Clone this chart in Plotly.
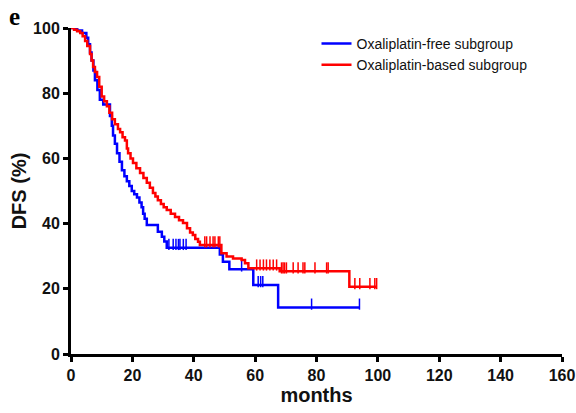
import numpy as np
import plotly.graph_objects as go

# ---- data ----
free_t = [0, 2, 3.6, 5, 5.6, 6.2, 6.7, 7.3, 7.8, 8.6, 9.4, 10.5, 12.7, 13.3, 13.7, 14.3, 15, 15.8,
          16.6, 17.4, 18.2, 19, 19.8, 20.6, 21.5, 22.3, 23, 23.5, 24, 24.7, 28.3, 29.6, 30.4, 31.2,
          48.5, 49.5, 51.6, 59.4, 67.5, 94]
free_s = [100, 99.2, 98.5, 97, 95, 92.5, 90, 87, 84, 81, 78, 76.5, 73, 70, 67, 64.5, 61.6, 59,
          56.4, 54.5, 53, 51.5, 50, 49, 48, 46.5, 45, 43, 41.5, 39.6, 37.5, 36, 34.5, 32.6,
          30.5, 28.3, 26, 21.2, 14.3, 14.3]
free_cens = [31.9, 33.3, 34.2, 35, 35.5, 36.6, 37.5, 55.6, 61, 61.8, 62.5, 78.4, 94]

based_t = [0, 1, 2, 3, 3.8, 4.6, 5.3, 6.2, 6.7, 7.2, 7.8, 8.5, 9.2, 10, 10.8, 11.7, 12.5, 13.4,
           14.3, 15.3, 16, 16.8, 17.6, 18.2, 18.6, 19.4, 20.2, 21.3, 22.5, 23.6, 24.7, 25.7, 26.7,
           27.5, 28.3, 29.3, 30.2, 31.2, 32.5, 33.9, 35.2, 36.5, 37.8, 38.8, 39.7, 40.5, 41.4, 42,
           49, 50.7, 52.8, 55.6, 56.7, 57.8, 68, 90.7, 99.6]
based_s = [100, 99.5, 99, 98.5, 97.5, 96, 94.5, 92, 90, 88, 86.5, 85, 82, 79, 77.5, 76, 74, 72,
           70.5, 69, 68, 66.5, 65.5, 63, 61.6, 60, 58.6, 57, 55.5, 54, 52.5, 51, 49.4,
           48.3, 47.2, 46, 45, 44.2, 43, 42, 41, 40.2, 38.6, 37.3, 36.5, 35.3, 34.4, 33.4,
           30.9, 29.9, 29.3, 28.8, 27.8, 26.3, 25.4, 20.6, 20.6]
based_cens = [43.6, 44.2, 45.3, 46.3, 46.9, 48, 48.5, 60.5, 61.6, 62.7, 63.7, 64.8, 65.9, 67,
              68.6, 69.1, 69.6, 70.2, 72.4, 74, 75.6, 76.2, 79.5, 83.3, 83.8, 92.5, 94.1, 97.4,
              99, 99.6]

names = ["Oxaliplatin-free subgroup", "Oxaliplatin-based subgroup"]
colors = ["#0000FF", "#FF0000"]
x_ticks = [0, 20, 40, 60, 80, 100, 120, 140, 160]
y_ticks = [0, 20, 40, 60, 80, 100]


def step_value(t, s, q):
    t = np.asarray(t); s = np.asarray(s)
    idx = np.searchsorted(t, q, side="right") - 1
    return s[idx]


fig = go.Figure()
series = [(free_t, free_s, free_cens), (based_t, based_s, based_cens)]
for (t, s, c), name, col in zip(series, names, colors):
    fig.add_trace(go.Scatter(x=t, y=s, mode="lines", line=dict(color=col, width=2.5, shape="hv"),
                             name=name, cliponaxis=False))
    cy = step_value(t, s, np.array(c)) + 1.0
    fig.add_trace(go.Scatter(x=c, y=cy, mode="markers", showlegend=False, cliponaxis=False,
                             marker=dict(symbol="line-ns", size=8,
                                         line=dict(color=col, width=1.5))))

font_fam = "Liberation Sans, Arial, sans-serif"
fig.update_layout(
    width=576, height=413,
    margin=dict(l=71, r=14, t=28, b=59, autoexpand=False),
    paper_bgcolor="white", plot_bgcolor="white",
    font=dict(family=font_fam, color="#111"),
    legend=dict(x=0.5, y=1.0, xanchor="left", yanchor="top", bgcolor="rgba(0,0,0,0)",
                font=dict(size=14, family=font_fam, color="#111"), tracegroupgap=0,
                itemwidth=30),
    annotations=[dict(text="<b>e</b>", x=0, y=1, xref="paper", yref="paper", xanchor="left",
                      yanchor="top", xshift=-64, yshift=27, showarrow=False,
                      font=dict(family="Liberation Serif, DejaVu Serif, serif", size=25,
                                color="black"))],
)
fig.update_xaxes(range=[0, 160], tickvals=x_ticks, ticks="outside", ticklen=5, tickwidth=3,
                 tickcolor="black", showline=True, linewidth=3, linecolor="black",
                 showgrid=False, zeroline=False, automargin=False,
                 tickfont=dict(size=16, family=font_fam, weight="bold", color="#111"),
                 title=dict(text="months", standoff=5,
                            font=dict(size=20, family=font_fam, weight="bold", color="#111")))
fig.update_yaxes(range=[0, 100], tickvals=y_ticks, ticks="outside", ticklen=5, tickwidth=3,
                 tickcolor="black", showline=True, linewidth=3, linecolor="black",
                 showgrid=False, zeroline=False, automargin=False,
                 tickfont=dict(size=16, family=font_fam, weight="bold", color="#111"),
                 title=dict(text="DFS (%)", standoff=2,
                            font=dict(size=20, family=font_fam, weight="bold", color="#111")))

fig.write_html("out.html", config={"displayModeBar": False},
               post_script="document.body.style.margin='0';document.body.style.overflow='hidden';")
